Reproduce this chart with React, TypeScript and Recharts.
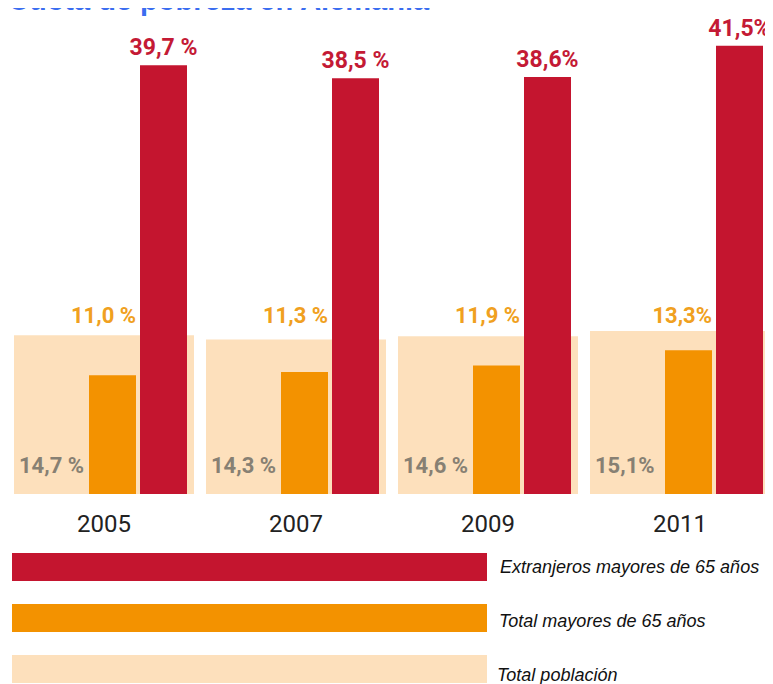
import React from 'react';
import { BarChart, Bar, XAxis, YAxis, LabelList } from 'recharts';

const years = ['2005', '2007', '2009', '2011'];
const foreignElderly = [39.7, 38.5, 38.6, 41.5];
const totalElderly = [11.0, 11.3, 11.9, 13.3];
const totalPopulation = [14.7, 14.3, 14.6, 15.1];
const foreignLabels = ['39,7 %', '38,5 %', '38,6%', '41,5%'];
const elderlyLabels = ['11,0 %', '11,3 %', '11,9 %', '13,3%'];
const populationLabels = ['14,7 %', '14,3 %', '14,6 %', '15,1%'];

const RED = '#c4152f';
const ORANGE = '#f39200';
const PEACH = '#fde0bc';

const legendItems = [
  { name: 'Extranjeros mayores de 65 años', color: RED },
  { name: 'Total mayores de 65 años', color: ORANGE },
  { name: 'Total población', color: PEACH },
];
const legendTextShift = [0, 3, 6];
const legendTextX = [13, 12, 10];

const data = years.map((year, i) => ({
  year,
  foreign: foreignElderly[i],
  elderly: totalElderly[i],
  population: totalPopulation[i],
  foreignLabel: foreignLabels[i],
  elderlyLabel: elderlyLabels[i],
  populationLabel: populationLabels[i],
}));

const labelFont = 'Roboto, "Noto Sans", sans-serif';

const ElderlyLabel = (props: any) => {
  const x = Number(props.x);
  const y = Number(props.y);
  const w = Number(props.width);
  const h = Number(props.height);
  return (
    <text x={x + w} y={y + h - 171} textAnchor="end" fontFamily={labelFont} fontWeight={700} fontSize={22} fill="#f0a020">
      {props.value}
    </text>
  );
};

const PopulationLabel = (props: any) => {
  const x = Number(props.x);
  const y = Number(props.y);
  const h = Number(props.height);
  return (
    <text x={x + 5} y={y + h - 21} textAnchor="start" fontFamily={labelFont} fontWeight={700} fontSize={22} fill="#878073">
      {props.value}
    </text>
  );
};

export default function App() {
  return (
    <div style={{ position: 'relative', width: 765 }}>
      <style>{`html,body{overflow:hidden}`}</style>
      <div
        style={{
          position: 'absolute',
          top: -22,
          left: 0,
          fontFamily: '"Liberation Sans", Arial, sans-serif',
          fontWeight: 700,
          fontSize: 29,
          lineHeight: '29px',
          color: '#3a6df0',
          whiteSpace: 'nowrap',
        }}
      >
        Cuota de pobreza en Alemania
      </div>
      <BarChart width={768} height={536} data={data} margin={{ top: 0, right: 0, bottom: 0, left: 0 }} barGap={4}>
        <YAxis hide domain={[0, 45]} />
        <XAxis
          xAxisId="bg"
          dataKey="year"
          axisLine={false}
          tickLine={false}
          tickSize={6}
          tickMargin={15}
          height={50}
          interval={0}
          tick={{ fontSize: 24, fill: '#222', fontFamily: labelFont }}
        />
        <XAxis xAxisId="fg" dataKey="year" hide />
        <Bar xAxisId="bg" dataKey="population" name="Total población" fill={PEACH} barSize={180} isAnimationActive={false}>
          <LabelList dataKey="populationLabel" content={PopulationLabel} />
        </Bar>
        <Bar xAxisId="fg" dataKey="spacer" barSize={64} fill="none" isAnimationActive={false} legendType="none" />
        <Bar xAxisId="fg" dataKey="elderly" name="Total mayores de 65 años" fill={ORANGE} barSize={47} isAnimationActive={false}>
          <LabelList dataKey="elderlyLabel" content={ElderlyLabel} />
        </Bar>
        <Bar xAxisId="fg" dataKey="foreign" name="Extranjeros mayores de 65 años" fill={RED} barSize={47} isAnimationActive={false}>
          <LabelList
            dataKey="foreignLabel"
            position="top"
            offset={10}
            fontFamily={labelFont}
            fontWeight={700}
            fontSize={23}
            fill="#c41a35"
          />
        </Bar>
      </BarChart>
      <div style={{ marginTop: 9 }}>
        {legendItems.map((item, i) => (
          <div key={item.name} style={{ display: 'flex', alignItems: 'center', height: 28, marginBottom: 23 }}>
            <div style={{ marginLeft: 4, width: 475, height: 28, background: item.color, flex: 'none' }} />
            <div
              style={{
                position: 'relative',
                top: legendTextShift[i],
                marginLeft: legendTextX[i],
                fontFamily: '"Liberation Sans", Arial, sans-serif',
                fontStyle: 'italic',
                fontSize: 18,
                color: '#111',
                whiteSpace: 'nowrap',
                flex: 'none',
              }}
            >
              {item.name}
            </div>
          </div>
        ))}
      </div>
    </div>
  );
}
